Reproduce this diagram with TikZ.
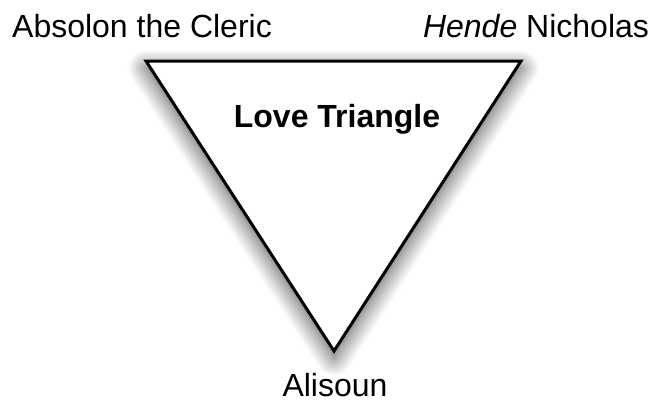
\documentclass[tikz,border=0pt]{standalone}
\usepackage{fontspec}
\setmainfont{Liberation Sans}
\usetikzlibrary{shadows.blur}

\begin{document}
\begin{tikzpicture}[x=1pt,y=-1pt,
  label/.style={font=\fontsize{32}{36}\selectfont, anchor=base, inner sep=0pt}]

\useasboundingbox (0,0) rectangle (666,402);

\coordinate (tl) at (146,61);
\coordinate (tr) at (521,61);
\coordinate (bt) at (334,351);

\draw[line width=3pt, line join=miter, fill=white,
  blur shadow={shadow xshift=0pt, shadow yshift=-7pt, shadow blur radius=18pt, shadow blur steps=12, shadow opacity=70}]
  (tl) -- (tr) -- (bt) -- cycle;

\node (title) [label, font=\bfseries\fontsize{32}{36}\selectfont] at (337,127) {Love Triangle};

\node (absolon) [label] at (142,37) {Absolon the Cleric};
\node (nicholas) [label] at (536,37) {\textit{Hende} Nicholas};
\node (alisoun) [label] at (335,396) {Alisoun};

\end{tikzpicture}
\end{document}
